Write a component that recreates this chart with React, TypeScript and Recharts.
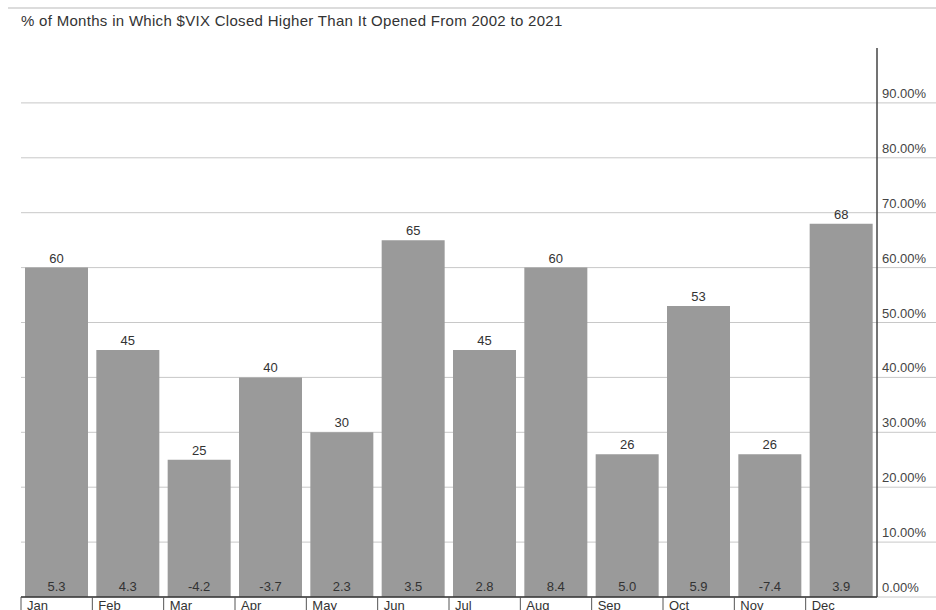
import { BarChart, Bar, XAxis, YAxis, CartesianGrid, LabelList } from "recharts";

const months = ["Jan", "Feb", "Mar", "Apr", "May", "Jun", "Jul", "Aug", "Sep", "Oct", "Nov", "Dec"];
const pctHigher = [60, 45, 25, 40, 30, 65, 45, 60, 26, 53, 26, 68];
const avgChange = ["5.3", "4.3", "-4.2", "-3.7", "2.3", "3.5", "2.8", "8.4", "5.0", "5.9", "-7.4", "3.9"];
const yTicks = [0, 10, 20, 30, 40, 50, 60, 70, 80, 90];

const data = months.map((m, i) => ({ month: m, pct: pctHigher[i], chg: avgChange[i] }));

const FONT = "'Liberation Sans', Arial, sans-serif";
const W = 936;
const H = 610;
const BAND = (W - 21 - 59) / months.length;

function MonthTick(props: any) {
  const { x, y, payload } = props;
  const half = payload?.offset || BAND / 2;
  const left = x - half;
  return (
    <g>
      <line x1={left} y1={y} x2={left} y2={y + 14} stroke="#555" strokeWidth={1} />
      <text x={left + 6} y={y + 13} fontSize={13} fill="#333" fontFamily={FONT}>
        {payload.value}
      </text>
    </g>
  );
}

function PctTick(props: any) {
  const { x, y, payload } = props;
  return (
    <text x={x - 3} y={y - 5} fontSize={13} fill="#444" fontFamily={FONT}>
      {`${Number(payload.value).toFixed(2)}%`}
    </text>
  );
}

function GridLine(props: any) {
  const { x1, y1, y2 } = props;
  // no line at the top edge of the plot
  if (y1 < 50) return <g />;
  return <line x1={x1} y1={y1} x2={W} y2={y2} stroke="#c8c8c8" strokeWidth={1} />;
}

export default function App() {
  return (
    <div style={{ position: "absolute", left: 0, top: 0, width: W, height: H, background: "#fff", overflow: "hidden" }}>
      <div style={{ position: "absolute", left: 8, top: 7, width: W - 8, height: 2, background: "#dcdcdc" }} />
      <div
        style={{
          position: "absolute",
          left: 21,
          top: 12,
          fontFamily: FONT,
          fontSize: 15,
          letterSpacing: 0.3,
          color: "#333",
          whiteSpace: "nowrap",
        }}
      >
        % of Months in Which $VIX Closed Higher Than It Opened From 2002 to 2021
      </div>
      <BarChart width={W} height={H} data={data} margin={{ top: 48, right: 0, left: 21, bottom: 0 }}>
        <CartesianGrid vertical={false} horizontal={(p: any) => <GridLine key={p.key ?? p.y1} {...p} />} />
        <XAxis
          dataKey="month"
          height={13}
          tickLine={false}
          tickSize={0}
          tickMargin={0}
          axisLine={{ stroke: "#333", strokeWidth: 1.5 }}
          tick={<MonthTick />}
          interval={0}
        />
        <YAxis
          orientation="right"
          width={59}
          domain={[0, 100]}
          ticks={yTicks}
          tickLine={false}
          axisLine={{ stroke: "#444", strokeWidth: 1.5 }}
          tick={<PctTick />}
        />
        <Bar dataKey="pct" fill="#9a9a9a" barSize={63} isAnimationActive={false}>
          <LabelList dataKey="pct" position="top" offset={5} fontSize={13} fill="#333" fontFamily={FONT} />
          <LabelList dataKey="chg" position="insideBottom" offset={6} fontSize={13} fill="#333" fontFamily={FONT} />
        </Bar>
      </BarChart>
    </div>
  );
}
